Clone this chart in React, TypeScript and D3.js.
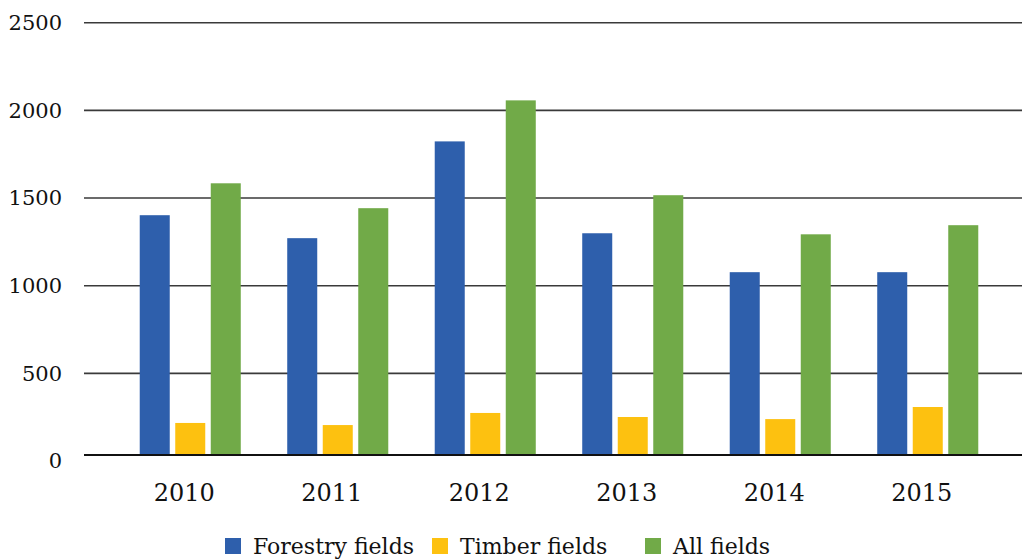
import React from "react";
import * as d3 from "d3";

const years = ["2010", "2011", "2012", "2013", "2014", "2015"];
const seriesNames = ["Forestry fields", "Timber fields", "All fields"];
const forestry = [1402, 1271, 1823, 1299, 1077, 1077];
const timber = [217, 205, 274, 251, 239, 308];
const allFields = [1584, 1442, 2057, 1516, 1293, 1345];
const yTicks = [0, 500, 1000, 1500, 2000, 2500];
const colors = ["#2E5FAC", "#FDC110", "#71AA48"];

const W = 1022;
const H = 560;

export default function App() {
  const seriesValues = [forestry, timber, allFields];
  const y = d3.scaleLinear().domain([0, 2500]).range([461, 22.7]);
  const x0 = d3
    .scaleBand<string>()
    .domain(years)
    .range([116.5, 1001.5])
    .paddingInner(0.315)
    .paddingOuter(0.1575);
  const x1 = d3
    .scaleBand<string>()
    .domain(seriesNames)
    .range([0, x0.bandwidth()])
    .paddingInner(0.155);
  const axisY = y(0) - 6;
  const ts = { fontFamily: "'DejaVu Serif', serif" };
  const legendX = [225, 432, 645];

  return (
    <svg
      width={W}
      height={H}
      style={{ position: "absolute", left: 0, top: 0, background: "#fff" }}
    >
      {yTicks.map((t) => (
        <g key={t}>
          {t > 0 && (
            <line x1={84} x2={W} y1={y(t)} y2={y(t)} stroke="#3a3a3a" strokeWidth={1.6} />
          )}
          <text
            x={62}
            y={y(t)}
            dy="0.35em"
            textAnchor="end"
            fontSize={21}
            fill="#111"
            style={ts}
          >
            {t}
          </text>
        </g>
      ))}
      {years.map((yr, i) => (
        <g key={yr} transform={`translate(${x0(yr)},0)`}>
          {seriesNames.map((s, j) => {
            const v = seriesValues[j][i];
            return (
              <rect
                key={s}
                x={x1(s)}
                y={y(v)}
                width={x1.bandwidth()}
                height={axisY - y(v)}
                fill={colors[j]}
              />
            );
          })}
        </g>
      ))}
      <line x1={84} x2={W} y1={axisY} y2={axisY} stroke="#111" strokeWidth={1.8} />
      {years.map((yr) => (
        <text
          key={yr}
          x={(x0(yr) as number) + x0.bandwidth() / 2 - 6}
          y={501}
          textAnchor="middle"
          fontSize={24}
          fill="#111"
          style={ts}
        >
          {yr}
        </text>
      ))}
      {seriesNames.map((s, j) => (
        <g key={s} transform={`translate(${legendX[j]},0)`}>
          <rect x={0} y={538} width={16} height={16} fill={colors[j]} />
          <text x={28} y={554} fontSize={22} fill="#111" style={ts}>
            {s}
          </text>
        </g>
      ))}
    </svg>
  );
}
